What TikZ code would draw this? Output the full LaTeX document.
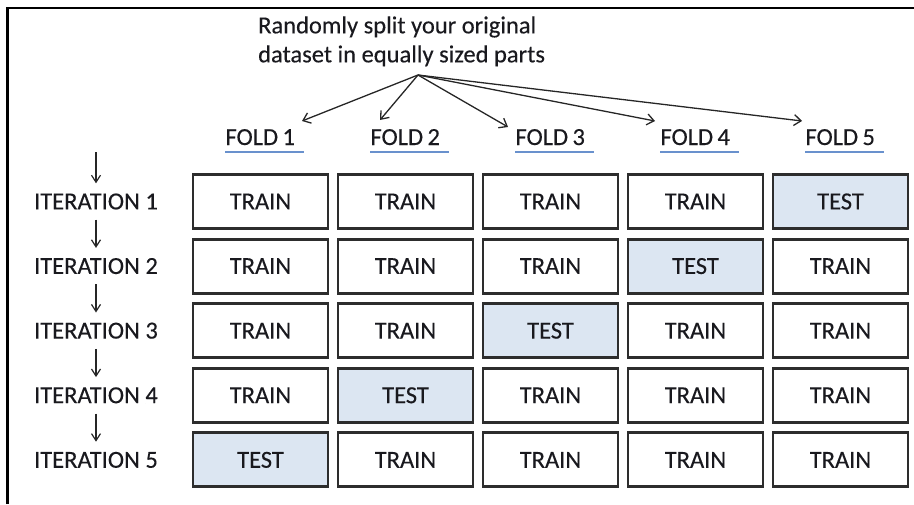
\documentclass[tikz,border=0pt]{standalone}
\usepackage{fontspec}
\setmainfont[FakeBold=0.25]{Carlito}
\usetikzlibrary{arrows.meta,calc}
\definecolor{testfill}{RGB}{220,230,242}
\definecolor{boxline}{RGB}{45,45,45}
\definecolor{ulblue}{RGB}{105,145,205}
\definecolor{txt}{RGB}{25,25,30}
\begin{document}
\begin{tikzpicture}[x=1pt,y=-1pt,
  every node/.style={font=\fontsize{24.5}{29}\selectfont, inner sep=0pt, text=txt},
  cell/.style={draw=boxline, line width=2.9pt, minimum width=135pt, minimum height=54pt, text height=15.7pt, text depth=0pt},
  iterlbl/.style={minimum height=36pt, text height=15.7pt, text depth=0pt},
  foldlbl/.style={text width=78pt, align=left, text depth=7pt},
  uline/.style={draw=ulblue, line width=1.5pt},
  splitarr/.style={draw=black!85, line width=1.3pt, -{Straight Barb[length=7pt,width=11pt]}},
  downarr/.style={draw=black!85, line width=1.2pt, -{Straight Barb[length=7pt,width=9pt]}}]
\useasboundingbox (0,0) rectangle (914,504);
% frame
\draw[line width=2.6pt] (7.3,504) -- (7.3,8) -- (914,8);
% top text
\node[align=left, anchor=west] (src text) at (258,41.3) {Randomly split your original\\dataset in equally sized parts};
\coordinate (src) at (418,75);
% fold labels
\foreach \c in {1,...,5} {
  \node[foldlbl, anchor=base] (f\c) at ({264.5+145*(\c-1)},145) {FOLD\hspace{0.18em}\c};
  \draw[uline] (f\c.south west) -- (f\c.south east);
}
\coordinate (t1) at ([shift={(37.5,-24)}]f1.base);
\coordinate (t2) at ([shift={(-29.5,-25)}]f2.base);
\coordinate (t3) at ([shift={(-46.5,-18)}]f3.base);
\coordinate (t4) at ([shift={(-44.5,-24)}]f4.base);
\coordinate (t5) at ([shift={(-42.5,-24)}]f5.base);
\foreach \i in {1,...,5} { \draw[splitarr] (src) -- (t\i); }
% grid
\foreach \r in {1,...,5} {
  \node[iterlbl] (it\r) at (96,{201.5+64.6*(\r-1)}) {ITERATION \r};
  \pgfmathtruncatemacro\tcol{6-\r}
  \foreach \c in {1,...,5} {
    \ifnum\c=\tcol
      \node[cell, fill=testfill] (c\r\c) at ({260.5+145*(\c-1)},{201.5+64.6*(\r-1)}) {TEST};
    \else
      \node[cell] (c\r\c) at ({260.5+145*(\c-1)},{201.5+64.6*(\r-1)}) {TRAIN};
    \fi
  }
}
% down arrows
\coordinate (a0) at (96,152);
\draw[downarr] (a0) -- (it1.north);
\foreach \r [evaluate=\r as \n using int(\r+1)] in {1,...,4} {
  \draw[downarr] (it\r.south) -- (it\n.north);
}
\end{tikzpicture}
\end{document}
